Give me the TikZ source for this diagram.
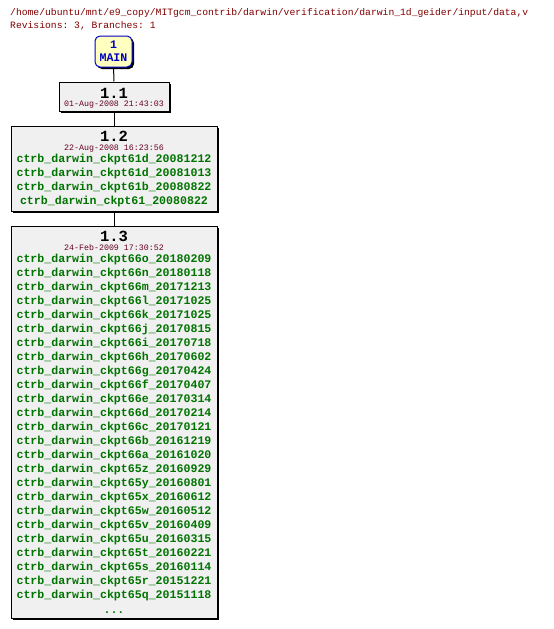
\documentclass[tikz,border=0pt]{standalone}
\usepackage{fontspec}
\setmonofont{Liberation Mono}
\usetikzlibrary{shadows}
\definecolor{hdr}{RGB}{128,0,0}
\definecolor{datec}{RGB}{102,0,34}
\definecolor{tagc}{RGB}{0,115,0}
\definecolor{mainfill}{RGB}{255,255,192}
\definecolor{mainblue}{RGB}{0,0,192}
\definecolor{boxfill}{RGB}{240,240,240}
\tikzset{
  revbox/.style={draw=black, line width=1pt, fill=boxfill, inner sep=0pt,
    drop shadow={shadow xshift=2pt, shadow yshift=-2pt, fill=black, opacity=1}},
  mainbox/.style={draw=mainblue, line width=1pt, fill=mainfill, rounded corners=5pt, inner sep=0pt,
    drop shadow={shadow xshift=2pt, shadow yshift=-2pt, fill=black, opacity=1}},
  hdrtext/.style={anchor=base west, inner sep=0pt, text=hdr, font=\ttfamily\fontsize{9.7}{11}\selectfont},
  revnum/.style={anchor=base, inner sep=0pt, text depth=0pt, font=\ttfamily\bfseries\fontsize{15.5}{18}\selectfont},
  datetext/.style={anchor=base, inner sep=0pt, text height=5.5pt, text depth=0pt, text=datec, font=\ttfamily\fontsize{8.3}{10}\selectfont},
  tagtext/.style={anchor=base, inner sep=0pt, text=tagc, font=\ttfamily\bfseries\fontsize{11.6}{13}\selectfont},
  maintext/.style={anchor=base, inner sep=0pt, text=mainblue, font=\ttfamily\bfseries\fontsize{11.6}{13}\selectfont},
  conn/.style={draw=black, line width=1pt}
}
\begin{document}
\begin{tikzpicture}[x=1pt, y=-1pt]
\useasboundingbox (0,0) rectangle (554,629);
\node[hdrtext] (h1) at (10,16) {/home/ubuntu/mnt/e9\_copy/MITgcm\_contrib/darwin/verification/darwin\_1d\_geider/input/data,v};
\node[hdrtext] (h2) at (10,28) {Revisions: 3, Branches: 1};

\node[mainbox, minimum width=37pt, minimum height=31pt] (main) at (113.5,51.5) {};
\node[maintext] (m1) at (113.5,48.5) {1};
\node[maintext] (m2) at (113.5,61.5) {MAIN};

\node[revbox, minimum width=110pt, minimum height=29pt] (r11) at (114,96.5) {};
\node[revnum] (n11) at (114,98) {1.1};
\node[datetext] (d11) at (114,106.5) {01-Aug-2008 21:43:03};

\node[revbox, minimum width=206pt, minimum height=85pt] (r12) at (114,168.5) {};
\node[revnum] (n12) at (114,141) {1.2};
\node[datetext] (d12) at (114,150) {22-Aug-2008 16:23:56};
\foreach \t [count=\i from 0] in {ctrb\_darwin\_ckpt61d\_20081212,ctrb\_darwin\_ckpt61d\_20081013,ctrb\_darwin\_ckpt61b\_20080822,ctrb\_darwin\_ckpt61\_20080822}
  \node[tagtext] (t12-\i) at (114,{162.5+14*\i}) {\t};

\node[revbox, minimum width=206pt, minimum height=392pt] (r13) at (114,422) {};
\node[revnum] (n13) at (114,241.5) {1.3};
\node[datetext] (d13) at (114,250.5) {24-Feb-2009 17:30:52};
\foreach \t [count=\i from 0] in {66o\_20180209,66n\_20180118,66m\_20171213,66l\_20171025,66k\_20171025,66j\_20170815,66i\_20170718,66h\_20170602,66g\_20170424,66f\_20170407,66e\_20170314,66d\_20170214,66c\_20170121,66b\_20161219,66a\_20161020,65z\_20160929,65y\_20160801,65x\_20160612,65w\_20160512,65v\_20160409,65u\_20160315,65t\_20160221,65s\_20160114,65r\_20151221,65q\_20151118}
  \node[tagtext] (t13-\i) at (114,{262.5+14*\i}) {ctrb\_darwin\_ckpt\t};
\node[tagtext] (dots) at (114,613) {...};

\draw[conn] (main) -- (r11);
\draw[conn] (r11) -- (r12);
\draw[conn] (r12) -- (r13);
\end{tikzpicture}
\end{document}
